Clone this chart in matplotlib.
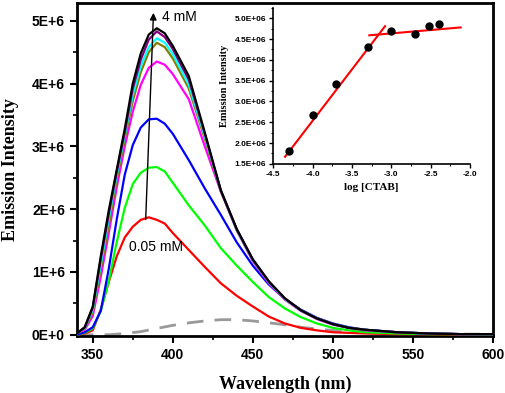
import numpy as np
import matplotlib.pyplot as plt
from matplotlib.ticker import MultipleLocator

# wavelength grid (nm) used by the CTAB spectra
WL = [340, 345, 350, 355, 360, 365, 370, 375, 380, 385, 390, 395, 400,
      410, 420, 430, 440, 450, 460, 470, 480, 490, 500, 510, 520,
      540, 560, 580, 600]

# emission intensity in units of 1E+6
RED = [0.0, 0.02, 0.07, 0.40, 0.84, 1.25, 1.55, 1.72, 1.83, 1.87, 1.83, 1.77, 1.62,
       1.35, 1.08, 0.82, 0.62, 0.45, 0.29, 0.18, 0.11, 0.07, 0.04, 0.03, 0.02,
       0.01, 0.01, 0.0, 0.0]
GREEN = [0.0, 0.03, 0.10, 0.38, 0.85, 1.48, 2.02, 2.40, 2.58, 2.66, 2.67, 2.60, 2.42,
         2.06, 1.74, 1.38, 1.10, 0.84, 0.60, 0.42, 0.28, 0.18, 0.11, 0.07, 0.04,
         0.02, 0.01, 0.01, 0.0]
BLUE = [0.0, 0.04, 0.12, 0.38, 1.05, 1.84, 2.55, 3.02, 3.30, 3.43, 3.44, 3.36, 3.20,
        2.78, 2.33, 1.91, 1.47, 1.10, 0.80, 0.57, 0.40, 0.27, 0.18, 0.12, 0.08,
        0.04, 0.02, 0.01, 0.01]
MAGENTA = [0.02, 0.08, 0.30, 0.92, 1.62, 2.35, 3.00, 3.55, 3.98, 4.25, 4.35, 4.30, 4.15,
           3.75, 3.00, 2.28, 1.66, 1.17, 0.82, 0.56, 0.38, 0.25, 0.16, 0.11, 0.07,
           0.04, 0.02, 0.01, 0.01]
OLIVE = [0.02, 0.10, 0.36, 1.05, 1.75, 2.48, 3.12, 3.72, 4.18, 4.50, 4.65, 4.58, 4.40,
         3.92, 3.12, 2.29, 1.67, 1.19, 0.84, 0.57, 0.39, 0.26, 0.17, 0.11, 0.08,
         0.04, 0.02, 0.01, 0.01]
CYAN = [0.02, 0.11, 0.40, 1.12, 1.85, 2.55, 3.18, 3.82, 4.28, 4.58, 4.72, 4.65, 4.47,
        3.98, 3.16, 2.30, 1.67, 1.19, 0.84, 0.57, 0.39, 0.26, 0.17, 0.11, 0.08,
        0.04, 0.02, 0.01, 0.01]
PURPLE = [0.02, 0.12, 0.43, 1.20, 1.92, 2.60, 3.22, 3.92, 4.38, 4.70, 4.83, 4.74, 4.55,
          4.06, 3.20, 2.30, 1.68, 1.20, 0.85, 0.58, 0.39, 0.26, 0.17, 0.11, 0.08,
          0.04, 0.02, 0.01, 0.01]
BLACK = [0.02, 0.12, 0.45, 1.25, 1.98, 2.63, 3.28, 4.00, 4.48, 4.78, 4.88, 4.80, 4.60,
         4.12, 3.22, 2.30, 1.68, 1.20, 0.85, 0.58, 0.39, 0.26, 0.17, 0.11, 0.08,
         0.04, 0.02, 0.01, 0.01]

# dashed reference spectrum (no CTAB)
WL_REF = [340, 350, 360, 370, 380, 390, 400, 410, 420, 430, 440, 450, 460,
          470, 480, 490, 500, 510, 520, 540, 560, 580, 600]
REF = [0.0, 0.0, 0.0, 0.02, 0.05, 0.10, 0.15, 0.19, 0.22, 0.24, 0.24, 0.22, 0.19,
       0.16, 0.12, 0.09, 0.07, 0.05, 0.04, 0.02, 0.01, 0.01, 0.01]

SERIES = [RED, GREEN, BLUE, MAGENTA, OLIVE, CYAN, PURPLE, BLACK]
COLORS = ["#ff0000", "#00ff00", "#0000ff", "#ff00ff", "#808000", "#00ffff", "#800080", "#000000"]

YTICKS = [0, 1, 2, 3, 4, 5]
YTICKLABELS = ["0E+0", "1E+6", "2E+6", "3E+6", "4E+6", "5E+6"]
XTICKS = [350, 400, 450, 500, 550, 600]

# inset: peak intensity vs log [CTAB]
LOGC = [-4.30, -4.00, -3.70, -3.30, -3.00, -2.70, -2.52, -2.40]
PEAK = [1.81, 2.67, 3.43, 4.31, 4.69, 4.62, 4.81, 4.86]
FIT1_X = [-4.35, -3.08]
FIT1_Y = [1.67, 4.81]
FIT2_X = [-3.28, -2.12]
FIT2_Y = [4.59, 4.78]
INSET_YTICKS = [1.5, 2.0, 2.5, 3.0, 3.5, 4.0, 4.5, 5.0]
INSET_YTICKLABELS = ["1.5E+06", "2.0E+06", "2.5E+06", "3.0E+06",
                     "3.5E+06", "4.0E+06", "4.5E+06", "5.0E+06"]
INSET_XTICKS = [-4.5, -4.0, -3.5, -3.0, -2.5, -2.0]

SANS = ["Liberation Sans", "DejaVu Sans"]
SERIF = ["Liberation Serif", "DejaVu Serif"]

fig = plt.figure(figsize=(5.05, 3.93), dpi=100)
ax = fig.add_axes([0.152, 0.145, 0.824, 0.847])

for y, c in zip(SERIES, COLORS):
    ax.plot(WL, y, color=c, linewidth=1.6, zorder=3)
ax.plot(WL_REF, REF, color="#999999", linewidth=2, dashes=(6, 4), zorder=2)

ax.set_xlim(340, 600)
ax.set_ylim(-0.02, 5.28)
ax.set_xticks(XTICKS)
ax.set_xticklabels([str(v) for v in XTICKS], fontfamily=SANS, fontweight="bold", fontsize=10)
ax.set_yticks(YTICKS)
ax.set_yticklabels(YTICKLABELS, fontfamily=SANS, fontweight="bold", fontsize=10)
ax.xaxis.set_minor_locator(MultipleLocator(25))
ax.yaxis.set_minor_locator(MultipleLocator(0.5))
ax.tick_params(which="major", direction="out", length=5, width=1.5)
ax.tick_params(which="minor", direction="out", length=3, width=1.2)
for s in ax.spines.values():
    s.set_linewidth(2)

ax.set_xlabel("Wavelength (nm)", fontfamily=SERIF, fontweight="bold", fontsize=13, labelpad=10)
ax.set_ylabel("Emission Intensity", fontfamily=SERIF, fontweight="bold", fontsize=13, labelpad=9)

ax.annotate("", xy=(388, 5.17), xytext=(383, 1.79),
            arrowprops=dict(arrowstyle="-|>", color="black", lw=1, mutation_scale=10),
            zorder=5)
ax.text(393, 5.06, "4 mM", fontfamily=SANS, fontsize=10, va="center", ha="left")
ax.text(389.5, 1.40, "0.05 mM", fontfamily=SANS, fontsize=10, va="center", ha="center")

# inset
ins = fig.add_axes([0.541, 0.583, 0.390, 0.397])
ins.plot(FIT1_X, FIT1_Y, color="red", linewidth=1.5, zorder=2)
ins.plot(FIT2_X, FIT2_Y, color="red", linewidth=1.5, zorder=2)
ins.plot(LOGC, PEAK, "o", color="black", markersize=5, zorder=3)
ins.set_xlim(-4.5, -2.0)
ins.set_ylim(1.5, 5.25)
ins.set_xticks(INSET_XTICKS)
ins.set_xticklabels([f"{v:.1f}" for v in INSET_XTICKS], fontfamily=SANS, fontweight="bold", fontsize=6)
ins.set_yticks(INSET_YTICKS)
ins.set_yticklabels(INSET_YTICKLABELS, fontfamily=SANS, fontweight="bold", fontsize=6)
ins.xaxis.set_minor_locator(MultipleLocator(0.25))
ins.yaxis.set_minor_locator(MultipleLocator(0.25))
ins.tick_params(which="major", direction="out", length=3, width=1, pad=2)
ins.tick_params(which="minor", direction="out", length=1.5, width=0.8)
ins.spines["top"].set_visible(False)
ins.spines["right"].set_visible(False)
ins.spines["left"].set_linewidth(1.2)
ins.spines["bottom"].set_linewidth(1.2)
ins.patch.set_alpha(0)
ins.set_xlabel("log [CTAB]", fontfamily=SERIF, fontweight="bold", fontsize=8, labelpad=4)
ins.set_ylabel("Emission Intensity", fontfamily=SERIF, fontweight="bold", fontsize=7.5, labelpad=4)

fig.savefig("out.png", dpi=100)
